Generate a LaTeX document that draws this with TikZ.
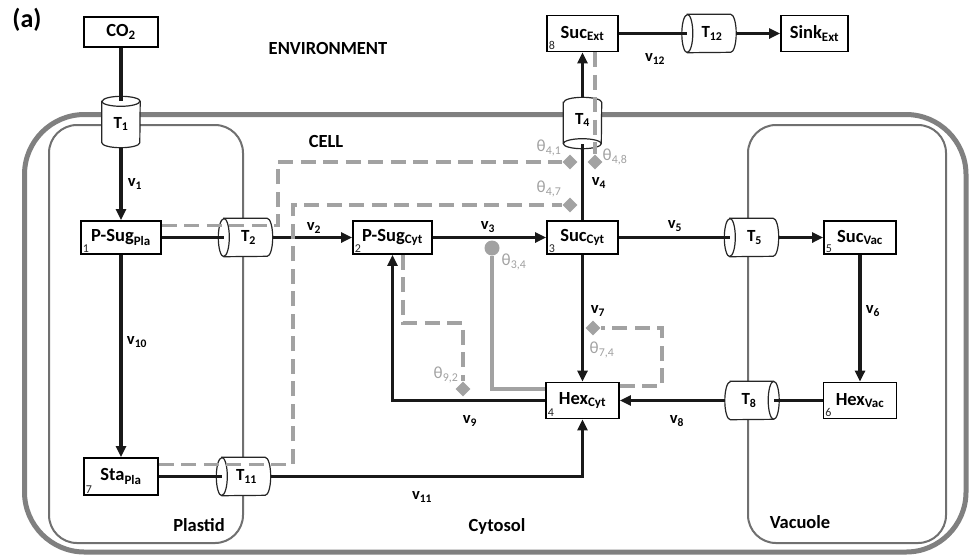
\documentclass[tikz,border=0pt]{standalone}
\usepackage{fontspec}
\setmainfont{Carlito}
\usetikzlibrary{calc,arrows.meta,shapes.geometric}
\definecolor{memb}{HTML}{808080}
\definecolor{inmemb}{HTML}{707070}
\definecolor{reg}{HTML}{A2A2A2}
\tikzset{
  box/.style={draw=black, line width=1.8pt, fill=white, font=\bfseries\fontsize{18.5}{20}\selectfont, minimum height=33pt, inner sep=0pt},
  flow/.style={line width=3.1pt, draw=black!90},
  arr/.style={flow, -{Triangle[length=11pt,width=10pt]}},
  regd/.style={draw=reg, line width=3.1pt, dash pattern=on 15pt off 7.5pt},
  regs/.style={draw=reg, line width=3.1pt},
  diam/.style={diamond, fill=reg, minimum size=15pt, inner sep=0pt},
  circ/.style={circle, fill=reg, minimum size=15pt, inner sep=0pt},
  theta/.style={text=reg, font=\fontsize{17}{18}\selectfont, inner sep=0pt},
  vlab/.style={font=\bfseries\fontsize{16.5}{18}\selectfont, inner sep=0pt},
  num/.style={font=\fontsize{12}{12}\selectfont, text=black!85, anchor=south west, inner sep=2.5pt},
  hcyl/.style={minimum width=54pt, minimum height=38pt, inner sep=0pt},
  vcyl/.style={minimum width=38pt, minimum height=51pt, inner sep=0pt},
  cylline/.style={draw=black!85, line width=1.2pt},
  cyltext/.style={font=\bfseries\fontsize{17}{18}\selectfont, inner sep=0pt},
  region/.style={font=\bfseries\fontsize{18.5}{20}\selectfont, inner sep=0pt},
  cellm/.style={draw=memb, line width=5pt, rounded corners=60pt},
  orgm/.style={draw=inmemb, line width=2pt, rounded corners=28pt}
}
% horizontal cylinder, front face on the west
\newcommand{\cylW}[3]{%
  \node[hcyl] (#1) at (#2) {};
  \draw[cylline, fill=white] ([xshift=5.5pt]#1.north west) -- ([xshift=-5.5pt]#1.north east)
     arc[start angle=90,end angle=-90,x radius=5.5pt,y radius=19pt]
     -- ([xshift=5.5pt]#1.south west)
     arc[start angle=270,end angle=90,x radius=5.5pt,y radius=19pt] -- cycle;
  \draw[cylline] ([xshift=5.5pt]#1.north west) arc[start angle=90,end angle=-90,x radius=5.5pt,y radius=19pt];
  \node[cyltext] at ([xshift=3pt]#1.center) {#3};
}
% horizontal cylinder, front face on the east
\newcommand{\cylE}[3]{%
  \node[hcyl] (#1) at (#2) {};
  \draw[cylline, fill=white] ([xshift=5.5pt]#1.north west) -- ([xshift=-5.5pt]#1.north east)
     arc[start angle=90,end angle=-90,x radius=5.5pt,y radius=19pt]
     -- ([xshift=5.5pt]#1.south west)
     arc[start angle=270,end angle=90,x radius=5.5pt,y radius=19pt] -- cycle;
  \draw[cylline] ([xshift=-5.5pt]#1.north east) arc[start angle=90,end angle=270,x radius=5.5pt,y radius=19pt];
  \node[cyltext] at ([xshift=-3pt]#1.center) {#3};
}
% vertical cylinder, front face on top
\newcommand{\cylN}[3]{%
  \node[vcyl] (#1) at (#2) {};
  \draw[cylline, fill=white] ([yshift=-5pt]#1.north west) -- ([yshift=5pt]#1.south west)
     arc[start angle=180,end angle=360,x radius=19pt,y radius=5pt]
     -- ([yshift=-5pt]#1.north east)
     arc[start angle=0,end angle=180,x radius=19pt,y radius=5pt] -- cycle;
  \draw[cylline] ([yshift=-5pt]#1.north west) arc[start angle=180,end angle=360,x radius=19pt,y radius=5pt];
  \node[cyltext] at ([yshift=-2pt]#1.center) {#3};
}
% vertical cylinder, front face at the bottom
\newcommand{\cylS}[3]{%
  \node[vcyl] (#1) at (#2) {};
  \draw[cylline, fill=white] ([yshift=-5pt]#1.north west) -- ([yshift=5pt]#1.south west)
     arc[start angle=180,end angle=360,x radius=19pt,y radius=5pt]
     -- ([yshift=-5pt]#1.north east)
     arc[start angle=0,end angle=180,x radius=19pt,y radius=5pt] -- cycle;
  \draw[cylline] ([yshift=5pt]#1.south west) arc[start angle=180,end angle=0,x radius=19pt,y radius=5pt];
  \node[cyltext] at ([yshift=3pt]#1.center) {#3};
}
\begin{document}
\begin{tikzpicture}[x=1pt,y=-1pt]
\useasboundingbox (0,0) rectangle (973,558);
\fill[white] (0,0) rectangle (973,558);

% membranes
\draw[cellm] (24.5,114.5) rectangle (966,552);
\draw[orgm] (49,125) rectangle (243,543);
\draw[orgm] (748,125) rectangle (946,543);

% region labels
\node[region, font=\bfseries\fontsize{26}{28}\selectfont] (lbla) at (27,20) {(a)};
\node[region] (lenv) at (328,48) {ENVIRONMENT};
\node[region] (lcell) at (326,141) {CELL};
\node[region] (lpla) at (199,525) {Plastid};
\node[region] (lcyt) at (497,526) {Cytosol};
\node[region] (lvac) at (800,522) {Vacuole};

% metabolite boxes
\node[box, minimum width=74pt, minimum height=30pt] (co2) at (121,32) {CO\textsubscript{2}};
\node[box, minimum width=80pt] (psp) at (121,237.5) {P-Sug\textsubscript{Pla}};
\node[box, minimum width=79pt] (psc) at (392.5,237.5) {P-Sug\textsubscript{Cyt}};
\node[box, minimum width=71pt] (scyt) at (582.5,237.5) {Suc\textsubscript{Cyt}};
\node[box, minimum width=71pt, minimum height=36pt] (sext) at (582.5,33.5) {Suc\textsubscript{Ext}};
\node[box, minimum width=67pt, minimum height=36pt] (sink) at (814.5,33.5) {Sink\textsubscript{Ext}};
\node[box, minimum width=72pt] (svac) at (860,237.5) {Suc\textsubscript{Vac}};
\node[box, minimum width=73pt, minimum height=36pt] (hvac) at (860,400.5) {Hex\textsubscript{Vac}};
\node[box, minimum width=73pt, minimum height=36pt] (hcyt) at (582.5,400.5) {Hex\textsubscript{Cyt}};
\node[box, minimum width=74pt, minimum height=37pt] (sta) at (121,476.5) {Sta\textsubscript{Pla}};

% compartment numbers
\node[num] (n1) at (psp.south west) {1};
\node[num] (n2) at (psc.south west) {2};
\node[num] (n3) at (scyt.south west) {3};
\node[num] (n4) at (hcyt.south west) {4};
\node[num] (n5) at (svac.south west) {5};
\node[num] (n6) at (hvac.south west) {6};
\node[num] (n7) at (sta.south west) {7};
\node[num] (n8) at (sext.south west) {8};

% transporters
\cylN{T1}{121,122}{T\textsubscript{1}}
\cylS{T4}{582.5,123}{T\textsubscript{4}}
\cylW{T2}{245.5,237.5}{T\textsubscript{2}}
\cylW{T5}{751.5,237.5}{T\textsubscript{5}}
\cylE{T8}{752,400.5}{T\textsubscript{8}}
\cylW{T11}{243.5,476.5}{T\textsubscript{11}}
\cylW{T12}{709,33.5}{T\textsubscript{12}}

% fluxes
\draw[flow] (co2.south) -- ([yshift=-5pt]T1.north);
\draw[arr] (T1.south) -- (psp.north);
\draw[flow] (psp.east) -- ([xshift=5.5pt]T2.west);
\draw[arr] (T2.east) -- (psc.west);
\draw[arr] (psc.east) -- (scyt.west);
\draw[flow] (scyt.east) -- ([xshift=5.5pt]T5.west);
\draw[arr] (T5.east) -- (svac.west);
\draw[arr] (svac.south) -- (hvac.north);
\draw[flow] (hvac.west) -- ([xshift=-5.5pt]T8.east);
\draw[arr] (T8.west) -- (hcyt.east);
\draw[arr] (scyt.south) -- (hcyt.north);
\draw[arr] (hcyt.west) -| (psc.south);
\draw[arr] (psp.south) -- (sta.north);
\draw[flow] (sta.east) -- ([xshift=5.5pt]T11.west);
\draw[arr] (T11.east) -| (hcyt.south);
\draw[flow] (scyt.north) -- ([yshift=5pt]T4.south);
\draw[arr] (T4.north) -- (sext.south);
\draw[flow] (sext.east) -- ([xshift=5.5pt]T12.west);
\draw[arr] (T12.east) -- (sink.west);

% flux labels
\node[vlab] (v1) at (135,184) {v\textsubscript{1}};
\node[vlab] (v2) at (314,228) {v\textsubscript{2}};
\node[vlab] (v3) at (488,227) {v\textsubscript{3}};
\node[vlab] (v4) at (599,183) {v\textsubscript{4}};
\node[vlab] (v5) at (675,226) {v\textsubscript{5}};
\node[vlab] (v6) at (873,311) {v\textsubscript{6}};
\node[vlab] (v7) at (598,311) {v\textsubscript{7}};
\node[vlab] (v8) at (677,421) {v\textsubscript{8}};
\node[vlab] (v9) at (470,421) {v\textsubscript{9}};
\node[vlab] (v10) at (137,342) {v\textsubscript{10}};
\node[vlab] (v11) at (422,497) {v\textsubscript{11}};
\node[vlab] (v12) at (655,59) {v\textsubscript{12}};

% regulation
\coordinate (k41) at (278,162);
\node[diam] (d41) at (570,162) {};
\draw[regd] ([yshift=12pt]psp.east) -| (k41) -- (d41);

\coordinate (k47) at (293,205);
\node[diam] (d47) at (570,205) {};
\draw[regd] ([yshift=12pt]sta.east) -| (k47) -- (d47);

\node[diam] (d48) at (595,162) {};
\draw[regd] ([xshift=12.5pt]sext.south) -- (d48);

\coordinate (k74) at (662,328);
\node[diam] (d74) at (593,328) {};
\draw[regd] ([yshift=14.5pt]hcyt.east) -| (k74) -- (d74);

\coordinate (k92) at (463,323);
\node[diam] (d92) at (463,389) {};
\draw[regd] ([xshift=10.5pt]psc.south) |- (k92) -- (d92);

\node[circ] (c34) at (492,248) {};
\draw[regs] ([yshift=11.5pt]hcyt.west) -| (c34);

% regulation labels
\node[theta] (t41) at (549,148) {θ\textsubscript{4,1}};
\node[theta] (t48) at (615,157) {θ\textsubscript{4,8}};
\node[theta] (t47) at (549,189) {θ\textsubscript{4,7}};
\node[theta] (t34) at (514,262) {θ\textsubscript{3,4}};
\node[theta] (t74) at (602,350) {θ\textsubscript{7,4}};
\node[theta] (t92) at (446,375) {θ\textsubscript{9,2}};
\end{tikzpicture}
\end{document}
